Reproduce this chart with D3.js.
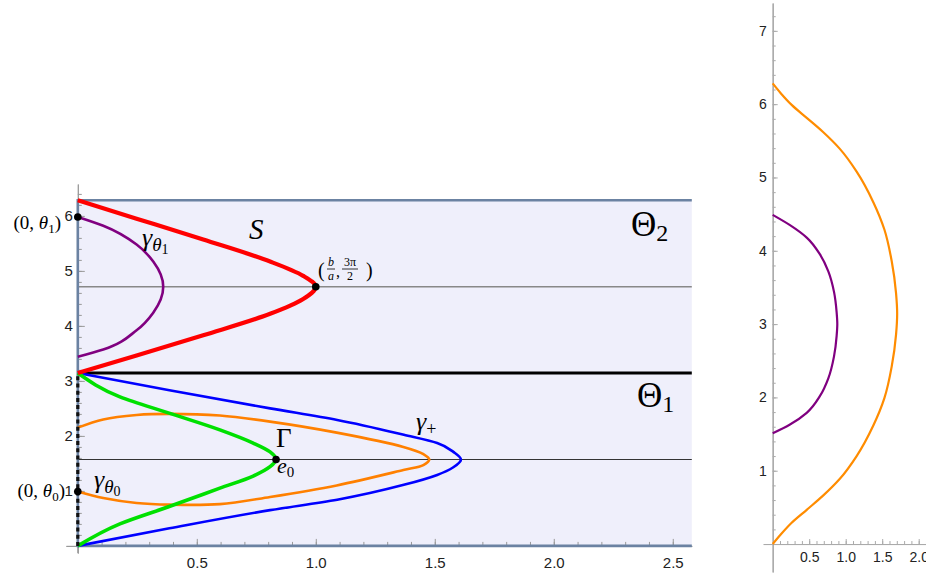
<!DOCTYPE html>
<html>
<head>
<meta charset="utf-8">
<script src="https://cdn.jsdelivr.net/npm/d3@7"></script>
<style>
  body { margin: 0; background: #fff; }
  svg { display: block; }
  .tick text { font-family: "Liberation Sans", Arial, sans-serif; fill: #222; }
  .math { font-family: "Liberation Serif", "DejaVu Serif", serif; fill: #000; }
</style>
</head>
<body>
<div id="chart"></div>
<script>
// left panel curves, [x, theta]
const curveS = [[0,6.283],[0.247,5.95],[0.527,5.57],[0.808,5.17],[0.947,4.91],[1.0,4.712],[0.947,4.49],[0.808,4.22],[0.527,3.83],[0.247,3.46],[0,3.142]];
const gammaTheta1 = [[0,5.98],[0.107,5.82],[0.247,5.48],[0.317,5.17],[0.359,4.712],[0.317,4.24],[0.247,3.92],[0.107,3.57],[0,3.44]];
const gammaPlus = [[0,3.142],[0.385,2.83],[0.808,2.50],[1.09,2.29],[1.37,2.02],[1.51,1.87],[1.578,1.71],[1.61,1.571],[1.578,1.43],[1.51,1.29],[1.37,1.11],[1.09,0.84],[0.808,0.65],[0.385,0.32],[0,0]];
const gammaBig = [[0,3.142],[0.177,2.71],[0.387,2.41],[0.597,2.11],[0.737,1.87],[0.808,1.71],[0.833,1.571],[0.808,1.44],[0.737,1.27],[0.597,1.05],[0.387,0.72],[0.177,0.40],[0,0]];
const gammaTheta0 = [[0,0.99],[0.107,0.87],[0.247,0.78],[0.387,0.75],[0.597,0.76],[0.808,0.89],[1.088,1.10],[1.368,1.38],[1.452,1.47],[1.477,1.571],[1.452,1.67],[1.368,1.80],[1.088,2.06],[0.808,2.26],[0.597,2.37],[0.387,2.40],[0.247,2.38],[0.107,2.30],[0,2.15]];

// right panel curves
const rightOrange = [[0,0],[0.11,0.13],[0.26,0.29],[0.47,0.47],[0.69,0.66],[0.92,0.89],[1.15,1.20],[1.38,1.62],[1.53,1.99],[1.63,2.42],[1.69,2.86],[1.705,3.142],[1.69,3.42],[1.63,3.86],[1.53,4.29],[1.38,4.66],[1.15,5.08],[0.92,5.39],[0.69,5.62],[0.47,5.81],[0.26,5.99],[0.11,6.15],[0,6.283]];
const rightPurple = [[0,1.51],[0.237,1.63],[0.466,1.79],[0.648,2.02],[0.762,2.26],[0.84,2.56],[0.876,2.84],[0.885,3.0],[0.876,3.16],[0.84,3.44],[0.762,3.72],[0.648,3.95],[0.466,4.18],[0.237,4.35],[0,4.49]];

const hLines = [Math.PI / 2, Math.PI, 3 * Math.PI / 2];
const dots = [[0, 5.98], [0, 0.99], [1.0, 3 * Math.PI / 2], [0.833, Math.PI / 2]];

const xTicks = [0.5, 1.0, 1.5, 2.0, 2.5];
const yTicks = [1, 2, 3, 4, 5, 6];
const rxTicks = [0.5, 1.0, 1.5, 2.0];
const ryTicks = [1, 2, 3, 4, 5, 6, 7];

const W = 926, H = 577;
const svg = d3.select("#chart").append("svg").attr("width", W).attr("height", H);

const x = d3.scaleLinear().domain([-0.05, 2.58]).range([65.9, 691.8]);
const y = d3.scaleLinear().domain([-0.13, 6.58]).range([553.05, 184]);

const xr = d3.scaleLinear().domain([-0.13, 2.2]).range([763.2, 933.3]);
const yr = d3.scaleLinear().domain([-0.38, 7.38]).range([571.9, 3]);

// curves that climb steadily in theta get a monotone spline through the read points
const byTheta = pts => pts.slice().sort((a, b) => a[1] - b[1]);
const lineMono = d3.line().x(d => x(d[0])).y(d => y(d[1])).curve(d3.curveMonotoneY);
const lineRound = d3.line().x(d => x(d[0])).y(d => y(d[1])).curve(d3.curveCatmullRom.alpha(0.5));
const linerMono = d3.line().x(d => xr(d[0])).y(d => yr(d[1])).curve(d3.curveMonotoneY);

const TWO_PI = 2 * Math.PI;
const frame = "#6b82a2";

// shaded strip
svg.append("rect")
    .attr("x", x(0)).attr("y", y(TWO_PI))
    .attr("width", x(2.58) - x(0)).attr("height", y(0) - y(TWO_PI))
    .attr("fill", "#efeffb");

function styleAxis(g, color){
    g.selectAll("line").attr("stroke", color);
    g.selectAll(".domain").attr("stroke", color);
}

// axes, left panel
const gx = svg.append("g").attr("transform", `translate(0,${y(0)})`)
    .call(d3.axisBottom(x).tickValues(xTicks).tickSize(-7).tickSizeOuter(0).tickPadding(11).tickFormat(d3.format(".1f")));
gx.selectAll("text").attr("font-size", 15);
styleAxis(gx, "#999");
const gxm = svg.append("g").attr("transform", `translate(0,${y(0)})`)
    .call(d3.axisBottom(x).tickValues(d3.range(1, 26).map(d => d / 10)).tickSize(-4).tickSizeOuter(0).tickFormat(""));
styleAxis(gxm, "#999");

const gy = svg.append("g").attr("transform", `translate(${x(0)},0)`)
    .call(d3.axisLeft(y).tickValues(yTicks).tickSize(-7).tickSizeOuter(0).tickPadding(5).tickFormat(d3.format("d")));
gy.selectAll("text").attr("font-size", 15);
styleAxis(gy, "#999");
const gym = svg.append("g").attr("transform", `translate(${x(0)},0)`)
    .call(d3.axisLeft(y).tickValues(d3.range(1, 33).map(d => d / 5)).tickSize(-4).tickSizeOuter(0).tickFormat(""));
styleAxis(gym, "#999");
// small stub of the axis below zero
svg.append("line").attr("x1", x(0)).attr("x2", x(0)).attr("y1", y(0)).attr("y2", y(-0.13)).attr("stroke", "#999");

// horizontal reference lines
svg.append("line").attr("x1", x(0)).attr("x2", x(2.58)).attr("y1", y(hLines[0])).attr("y2", y(hLines[0]))
    .attr("stroke", "#333").attr("stroke-width", 1);
svg.append("line").attr("x1", x(0)).attr("x2", x(2.58)).attr("y1", y(hLines[2])).attr("y2", y(hLines[2]))
    .attr("stroke", "#888").attr("stroke-width", 1.6);
svg.append("line").attr("x1", x(0)).attr("x2", x(2.58)).attr("y1", y(hLines[1])).attr("y2", y(hLines[1]))
    .attr("stroke", "#000").attr("stroke-width", 3);

// frame of the strip
svg.append("path")
    .attr("d", `M${x(2.58)},${y(TWO_PI)}H${x(0)}V${y(0)}H${x(2.58)}`)
    .attr("fill", "none").attr("stroke", frame).attr("stroke-width", 2.6);

// curves
svg.append("path").datum(gammaTheta0).attr("d", lineRound)
    .attr("fill", "none").attr("stroke", "#ff8000").attr("stroke-width", 2.6);
const monoCurves = [
    [gammaPlus, "#0000ff", 2.6],
    [gammaBig, "#00e000", 3.6],
    [gammaTheta1, "#800080", 2.6],
    [curveS, "#ff0000", 4.2]
];
monoCurves.forEach(c => {
    svg.append("path").datum(byTheta(c[0])).attr("d", lineMono)
        .attr("fill", "none").attr("stroke", c[1]).attr("stroke-width", c[2]);
});

// dashed segment on the axis
svg.append("line").attr("x1", x(0)).attr("x2", x(0)).attr("y1", y(0)).attr("y2", y(Math.PI))
    .attr("stroke", "#111").attr("stroke-width", 3.2).attr("stroke-dasharray", "4,3.2");

svg.selectAll("circle.pt").data(dots).enter().append("circle")
    .attr("cx", d => x(d[0])).attr("cy", d => y(d[1])).attr("r", 3.8).attr("fill", "#000");

// labels
function mathText(px, py, size, parts, anchor){
    const t = svg.append("text").attr("class", "math").attr("x", px).attr("y", py)
        .attr("font-size", size).attr("text-anchor", anchor || "start");
    parts.forEach(p => {
        const s = t.append("tspan").text(p.t);
        if (p.italic) s.attr("font-style", "italic");
        if (p.size) s.attr("font-size", p.size);
        if (p.dy) s.attr("dy", p.dy);
    });
    return t;
}

mathText(61, 229, 19, [{t:"(0, "},{t:"θ", italic:true},{t:"1", size:13, dy:4},{t:")", dy:-4}], "end");
mathText(65, 497, 19, [{t:"(0, "},{t:"θ", italic:true},{t:"0", size:13, dy:4},{t:")", dy:-4}], "end");

mathText(142, 246, 26, [{t:"γ", italic:true},{t:"θ", italic:true, size:19, dy:5},{t:"1", size:14, dy:3}]);
mathText(94, 488, 26, [{t:"γ", italic:true},{t:"θ", italic:true, size:19, dy:5},{t:"0", size:14, dy:3}]);
mathText(416, 430, 26, [{t:"γ", italic:true},{t:"+", size:18, dy:5}]);

mathText(249, 239, 29, [{t:"S", italic:true}]);
mathText(276, 447, 27, [{t:"Γ"}]);
mathText(277, 473, 22, [{t:"e", italic:true},{t:"0", size:15, dy:4}]);

mathText(631, 236, 35, [{t:"Θ"},{t:"2", size:24, dy:5}]);
mathText(637, 407, 35, [{t:"Θ"},{t:"1", size:24, dy:5}]);

// (b/a, 3π/2)
mathText(318, 277, 20, [{t:"("}]);
mathText(331, 266, 12, [{t:"b", italic:true}], "middle");
mathText(331, 280, 12, [{t:"a", italic:true}], "middle");
mathText(336, 277, 16, [{t:","}]);
mathText(350, 266, 12, [{t:"3π"}], "middle");
mathText(350, 280, 12, [{t:"2"}], "middle");
mathText(366, 277, 20, [{t:")"}]);
svg.append("line").attr("x1", 327).attr("x2", 335).attr("y1", 269).attr("y2", 269).attr("stroke", "#000").attr("stroke-width", 0.8);
svg.append("line").attr("x1", 342).attr("x2", 358).attr("y1", 269).attr("y2", 269).attr("stroke", "#000").attr("stroke-width", 0.8);

// right panel
const gxr = svg.append("g").attr("transform", `translate(0,${yr(0)})`)
    .call(d3.axisBottom(xr).tickValues(rxTicks).tickSize(-5).tickSizeOuter(0).tickPadding(8).tickFormat(d3.format(".1f")));
gxr.selectAll("text").attr("font-size", 14);
styleAxis(gxr, "#aaa");
const gxrm = svg.append("g").attr("transform", `translate(0,${yr(0)})`)
    .call(d3.axisBottom(xr).tickValues(d3.range(1, 22).map(d => d / 10)).tickSize(-3).tickSizeOuter(0).tickFormat(""));
styleAxis(gxrm, "#aaa");

const gyr = svg.append("g").attr("transform", `translate(${xr(0)},0)`)
    .call(d3.axisLeft(yr).tickValues(ryTicks).tickSize(-5).tickSizeOuter(0).tickPadding(6).tickFormat(d3.format("d")));
gyr.selectAll("text").attr("font-size", 14);
styleAxis(gyr, "#aaa");
gyr.select(".domain").attr("stroke-width", 1.4);
const gyrm = svg.append("g").attr("transform", `translate(${xr(0)},0)`)
    .call(d3.axisLeft(yr).tickValues(d3.range(1, 37).map(d => d / 5)).tickSize(-3).tickSizeOuter(0).tickFormat(""));
styleAxis(gyrm, "#aaa");

svg.append("path").datum(byTheta(rightOrange)).attr("d", linerMono)
    .attr("fill", "none").attr("stroke", "#ff8c00").attr("stroke-width", 2.2);
svg.append("path").datum(byTheta(rightPurple)).attr("d", linerMono)
    .attr("fill", "none").attr("stroke", "#800080").attr("stroke-width", 2.2);
</script>
</body>
</html>
